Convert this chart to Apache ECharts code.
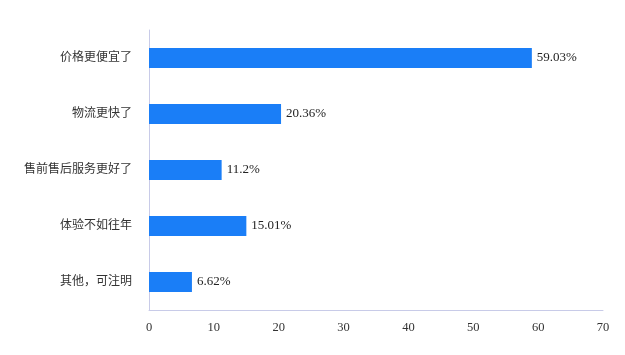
<!DOCTYPE html>
<html><head><meta charset="utf-8">
<script src="https://cdn.jsdelivr.net/npm/echarts@6/dist/echarts.min.js"></script>
<style>html,body{margin:0;padding:0;background:#fff}#c{width:625px;height:355px}</style>
</head><body><div id="c"></div>
<script>
const categories = ["价格更便宜了", "物流更快了", "售前售后服务更好了", "体验不如往年", "其他，可注明"];
const values = [59.03, 20.36, 11.2, 15.01, 6.62];
const xTicks = [0, 10, 20, 30, 40, 50, 60, 70];

const chart = echarts.init(document.getElementById('c'));
const font = '"Liberation Serif", "Noto Sans CJK SC", serif';
chart.setOption({
  animation: false,
  grid: {left: 149, right: 22, top: 30, bottom: 45, containLabel: false},
  xAxis: {
    type: 'value', min: xTicks[0], max: xTicks[xTicks.length - 1], interval: 10,
    axisLine: {show: true, lineStyle: {color: '#c8cbe8', width: 1}},
    axisTick: {show: false},
    splitLine: {show: false},
    axisLabel: {color: '#333', fontSize: 12.5, fontFamily: font, margin: 11}
  },
  yAxis: {
    type: 'category', data: categories, inverse: true,
    axisLine: {show: true, lineStyle: {color: '#c8cbe8', width: 1}},
    axisTick: {show: false},
    axisLabel: {color: '#333', fontSize: 12, fontFamily: font, margin: 17}
  },
  series: [{
    type: 'bar', data: values, barWidth: 20,
    itemStyle: {color: '#1a7ef7'},
    label: {show: true, position: 'right', distance: 5, formatter: p => p.value + '%',
            color: '#222', fontSize: 13, fontFamily: font}
  }]
});
</script></body></html>
